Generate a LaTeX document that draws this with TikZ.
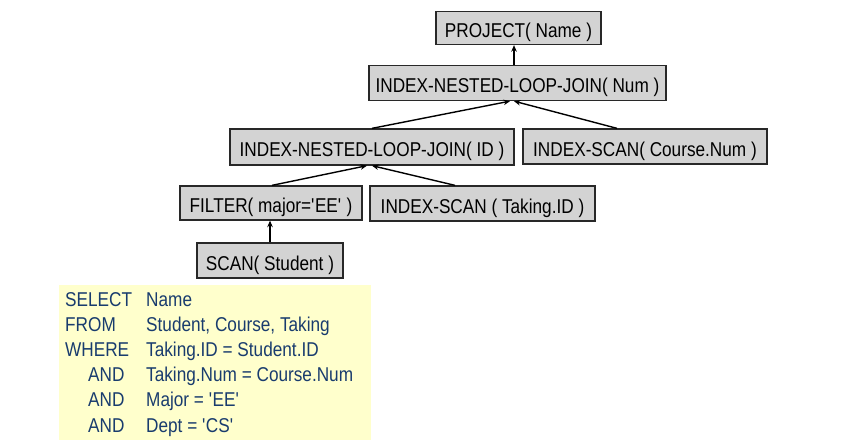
\documentclass[tikz,border=0pt]{standalone}
\usepackage{fontspec}
\setmainfont{Liberation Sans}[FakeStretch=0.86]
\usetikzlibrary{arrows.meta}
\definecolor{boxgray}{RGB}{211,211,211}
\definecolor{boxline}{RGB}{40,40,40}
\definecolor{sqlbg}{RGB}{255,255,204}
\definecolor{sqltext}{RGB}{25,60,110}
\newcommand{\sq}{\textquotesingle}
\tikzset{
  op/.style={draw=boxline, line width=1.3pt, fill=boxgray, inner sep=0pt,
    text height=19pt, text depth=0pt,
    font=\fontsize{20}{24}\selectfont, text=black},
  arr/.style={line width=1.4pt, draw=black, -{Stealth[length=6.5pt,width=5.5pt]}},
  sql/.style={anchor=base west, inner sep=0pt, text=sqltext, font=\fontsize{20}{24}\selectfont}
}
\begin{document}
\begin{tikzpicture}[x=1pt,y=-1pt]
\useasboundingbox (0,0) rectangle (857,440);
% operator boxes
\node[op, minimum width=165pt, minimum height=33pt] (proj) at (518.5,28) {PROJECT( Name )};
\node[op, minimum width=297pt, minimum height=35pt] (inlj2) at (517.5,83) {INDEX-NESTED-LOOP-JOIN( Num )};
\node[op, minimum width=284pt, minimum height=36pt] (inlj1) at (372,147) {INDEX-NESTED-LOOP-JOIN( ID )};
\node[op, minimum width=244pt, minimum height=35pt] (course) at (645,146.5) {INDEX-SCAN( Course.Num )};
\node[op, minimum width=182pt, minimum height=34pt] (filter) at (271,203) {FILTER( major=\sq EE\sq\ )};
\node[op, minimum width=225pt, minimum height=35pt] (taking) at (482.5,203.5) {INDEX-SCAN ( Taking.ID )};
\node[op, minimum width=146pt, minimum height=35pt] (scan) at (270,260.5) {SCAN( Student )};
% connectors
\draw[arr] ([xshift=-3.5pt]inlj2.north) -- ([xshift=-3.5pt]inlj2.north |- proj.south);
\draw[arr] (inlj1.north) -- ([xshift=-7.5pt]inlj2.south);
\draw[arr] ([xshift=-28pt]course.north) -- ([xshift=-3.5pt]inlj2.south);
\draw[arr] ([xshift=1pt]filter.north) -- ([xshift=-5pt]inlj1.south);
\draw[arr] ([xshift=-27.5pt]taking.north) -- (inlj1.south);
\draw[arr] (scan.north) -- (scan.north |- filter.south);
% SQL box
\fill[sqlbg] (59,285) rectangle (371,440);
\node[sql] (k1) at (65,306) {SELECT};
\node[sql] (v1) at (146,306) {Name};
\node[sql] (k2) at (65,331.2) {FROM};
\node[sql] (v2) at (146,331.2) {Student, Course, Taking};
\node[sql] (k3) at (65,356.4) {WHERE};
\node[sql] (v3) at (146,356.4) {Taking.ID = Student.ID};
\node[sql] (k4) at (88,381.6) {AND};
\node[sql] (v4) at (146,381.6) {Taking.Num = Course.Num};
\node[sql] (k5) at (88,406.8) {AND};
\node[sql] (v5) at (146,406.8) {Major = \sq EE\sq};
\node[sql] (k6) at (88,432) {AND};
\node[sql] (v6) at (146,432) {Dept = \sq CS\sq};
\end{tikzpicture}
\end{document}
